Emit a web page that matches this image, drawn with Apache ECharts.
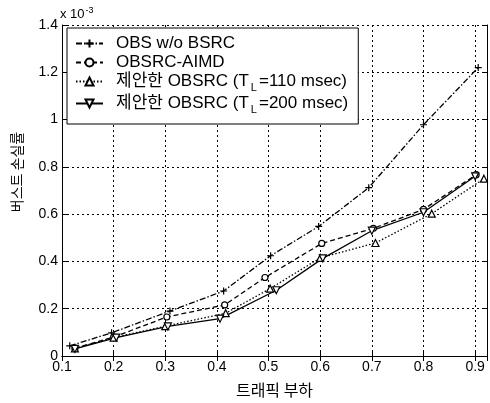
<!DOCTYPE html>
<html>
<head>
<meta charset="utf-8">
<script src="https://cdn.jsdelivr.net/npm/echarts@6/dist/echarts.min.js"></script>
<style>html,body{margin:0;padding:0;background:#fff}#c{width:490px;height:403px}</style>
</head>
<body>
<div id="c"></div>
<script>
// Values in units of 1e-3
const seriesNames = ['OBS w/o BSRC', 'OBSRC-AIMD', '제안한 OBSRC (T_L=110 msec)', '제안한 OBSRC (T_L=200 msec)'];
const xObs   = [0.115, 0.196, 0.309, 0.413, 0.504, 0.597, 0.694, 0.800, 0.906];
const yObs   = [0.043, 0.098, 0.190, 0.275, 0.424, 0.548, 0.712, 0.978, 1.220];
const xAimd  = [0.125, 0.200, 0.303, 0.415, 0.493, 0.603, 0.703, 0.800, 0.902];
const yAimd  = [0.033, 0.080, 0.165, 0.216, 0.332, 0.476, 0.540, 0.620, 0.767];
const x110   = [0.125, 0.200, 0.300, 0.417, 0.503, 0.600, 0.707, 0.816, 0.917];
const y110   = [0.032, 0.078, 0.126, 0.181, 0.285, 0.415, 0.478, 0.602, 0.750];
const x200   = [0.125, 0.205, 0.305, 0.406, 0.515, 0.605, 0.700, 0.800, 0.900];
const y200   = [0.030, 0.078, 0.125, 0.158, 0.278, 0.413, 0.530, 0.608, 0.760];
const xTicks = [0.1, 0.2, 0.3, 0.4, 0.5, 0.6, 0.7, 0.8, 0.9];
const yTicks = [0, 0.2, 0.4, 0.6, 0.8, 1, 1.2, 1.4];

const pair = (xs, ys) => xs.map((x, i) => [x, ys[i]]);
const FONT = '"Liberation Sans", Arial, sans-serif';
const KFONT = '"Liberation Sans", "Noto Sans CJK KR", sans-serif';
const plus = 'path://M0,5L10,5M5,0L5,10';
const tri = 'path://M5,0L10,9L0,9Z';

const chart = echarts.init(document.getElementById('c'), null, {renderer: 'canvas'});
const mk = (name, data, dash, symbol, size, rot) => ({
  name, type: 'line', data, symbol, symbolSize: size, symbolRotate: rot || 0,
  showAllSymbol: true, animation: false,
  lineStyle: {color: '#000', width: 1.3, type: dash},
  itemStyle: {color: symbol === plus ? 'none' : '#fff', borderColor: '#000', borderWidth: 1.2}
});

chart.setOption({
  animation: false,
  grid: {left: 62, top: 25, right: 3, bottom: 41, containLabel: false},
  legend: {
    left: 67, top: 28, orient: 'vertical',
    backgroundColor: '#fff', borderColor: '#000', borderWidth: 1,
    padding: [7, 10, 9, 8], itemGap: 2, itemWidth: 27, itemHeight: 10,
    data: seriesNames,
    formatter: n => n.replace('T_L', 'T{sub|L}'),
    textStyle: {
      fontFamily: KFONT, fontSize: 17, color: '#000', lineHeight: 17, padding: [0, 0, 0, 8],
      rich: {sub: {fontFamily: FONT, fontSize: 11, color: '#000', padding: [12, 2, 0, 2]}}
    }
  },
  xAxis: [{
    type: 'value', min: 0.1, max: 0.923, interval: 0.1,
    name: '트래픽 부하', nameLocation: 'middle', nameGap: 26,
    nameTextStyle: {fontFamily: '"Noto Sans CJK KR"', fontSize: 16, color: '#000'},
    axisLine: {show: true, lineStyle: {color: '#000', width: 1}},
    axisTick: {show: true, inside: true, length: 5, lineStyle: {color: '#000'}},
    axisLabel: {margin: 4, fontFamily: FONT, fontSize: 14, color: '#000', showMaxLabel: false,
      formatter: v => (Math.round(v * 10) / 10).toFixed(1)},
    splitLine: {show: true, lineStyle: {color: '#000', width: 1, type: [2, 3]}}
  }, {
    type: 'value', position: 'top', min: 0.1, max: 0.923, interval: 0.1,
    axisLine: {show: true, lineStyle: {color: '#000', width: 1}},
    axisTick: {show: true, inside: true, length: 5, lineStyle: {color: '#000'}},
    axisLabel: {show: false}, splitLine: {show: false}
  }],
  yAxis: [{
    type: 'value', min: 0, max: 1.4, interval: 0.2,
    axisLine: {show: true, lineStyle: {color: '#000', width: 1}},
    axisTick: {show: true, inside: true, length: 5, lineStyle: {color: '#000'}},
    axisLabel: {margin: 4, fontFamily: FONT, fontSize: 14, color: '#000',
      formatter: v => String(Math.round(v * 10) / 10)},
    splitLine: {show: true, lineStyle: {color: '#000', width: 1, type: [2, 3]}}
  }, {
    type: 'value', position: 'right', min: 0, max: 1.4, interval: 0.2,
    axisLine: {show: true, lineStyle: {color: '#000', width: 1}},
    axisTick: {show: true, inside: true, length: 5, lineStyle: {color: '#000'}},
    axisLabel: {show: false}, splitLine: {show: false}
  }],
  graphic: [{
    type: 'text', x: 17, y: 172, rotation: Math.PI / 2,
    style: {text: '버스트 손실률', fontSize: 14, fontFamily: '"Noto Sans CJK KR"', fill: '#000',
      align: 'center', verticalAlign: 'middle'}
  }, {
    type: 'text', left: 60, top: 6,
    style: {text: 'x 10{sup|-3}', fontSize: 13, fontFamily: FONT, fill: '#000',
      rich: {sup: {fontSize: 9, fontFamily: FONT, fill: '#000', padding: [0, 0, 8, 1]}}}
  }],
  series: [
    mk(seriesNames[0], pair(xObs, yObs), [6, 2, 1.5, 2], plus, 7),
    mk(seriesNames[1], pair(xAimd, yAimd), [5, 3], 'circle', 6),
    mk(seriesNames[2], pair(x110, y110), [1.5, 2], tri, 7),
    mk(seriesNames[3], pair(x200, y200), 'solid', tri, 7, 180)
  ]
});
</script>
</body>
</html>
